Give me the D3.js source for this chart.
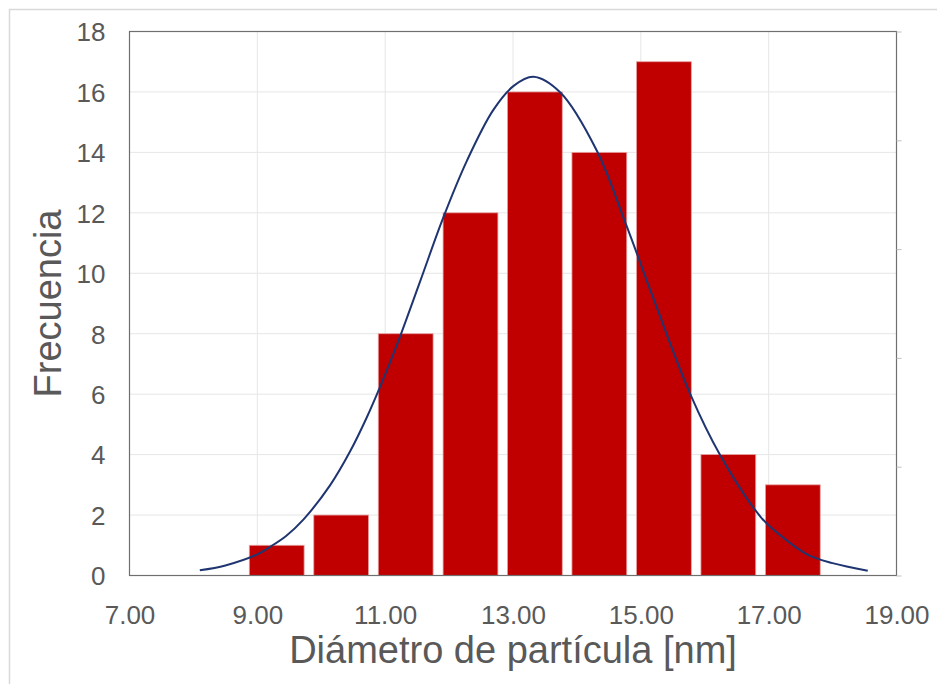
<!DOCTYPE html>
<html>
<head>
<meta charset="utf-8">
<script src="https://cdn.jsdelivr.net/npm/d3@7"></script>
<style>
  html, body { margin: 0; padding: 0; background: #fff; }
  svg text { font-family: "Liberation Sans", Arial, sans-serif; fill: #595959; }
</style>
</head>
<body>
<div id="chart"></div>
<script>
// Histogram bins (centre of each bin, nm) and counts
var binCenters = [9.303, 10.312, 11.321, 12.335, 13.342, 14.351, 15.361, 16.369, 17.378];
var counts = [1, 2, 8, 12, 16, 14, 17, 4, 3];
var binWidth = 1.009;

// Normal fit curve
var curveX = [8.10, 8.50, 9.00, 9.20, 9.45, 9.72, 10.14, 10.45, 10.71, 10.92, 11.18, 11.55, 11.91, 12.28, 12.69, 13.01, 13.32,
              13.74, 14.31, 14.78, 15.20, 15.77, 16.24, 16.87, 17.08, 17.60, 18.00, 18.55];
var curveY = [0.17, 0.33, 0.70, 0.95, 1.31, 1.85, 2.99, 4.10, 5.22, 6.24, 7.61, 9.75, 11.85, 13.73, 15.40, 16.20, 16.50,
              15.98, 14.06, 11.55, 9.15, 6.02, 3.99, 1.95, 1.51, 0.70, 0.41, 0.16];

var xTicks = [7, 9, 11, 13, 15, 17, 19];
var yTicks = [0, 2, 4, 6, 8, 10, 12, 14, 16, 18];

var xLabel = "Diámetro de partícula [nm]";
var yLabel = "Frecuencia";

(function () {
    "use strict";

    var width = 937,
        height = 684,
        margin = {top: 31.5, right: 40.5, bottom: 108.5, left: 129.5},
        w = width - margin.left - margin.right,
        h = height - margin.top - margin.bottom;

    var svg = d3.select("#chart").append("svg")
        .attr("width", width)
        .attr("height", height);

    // outer chart frame (only top/left edges visible in the picture)
    svg.append("rect")
        .attr("x", 9.5).attr("y", 9.5)
        .attr("width", 1200).attr("height", 1200)
        .attr("fill", "none")
        .attr("stroke", "#d9d9d9")
        .attr("stroke-width", 1.5);

    var x = d3.scaleLinear().domain([7, 19]).range([0, w]);
    var y = d3.scaleLinear().domain([0, 18]).range([h, 0]);

    var g = svg.append("g")
        .attr("transform", "translate(" + margin.left + "," + margin.top + ")");

    // grid lines
    g.append("g")
        .selectAll("line")
        .data(yTicks)
        .enter().append("line")
        .attr("x1", 0).attr("x2", w)
        .attr("y1", function (d) { return y(d); })
        .attr("y2", function (d) { return y(d); })
        .attr("stroke", "#e6e6e6").attr("stroke-width", 1);

    g.append("g")
        .selectAll("line")
        .data(xTicks)
        .enter().append("line")
        .attr("y1", 0).attr("y2", h)
        .attr("x1", function (d) { return x(d); })
        .attr("x2", function (d) { return x(d); })
        .attr("stroke", "#e6e6e6").attr("stroke-width", 1);

    // bars
    g.append("g")
        .selectAll("rect")
        .data(binCenters)
        .enter().append("rect")
        .attr("x", function (d) { return x(d - binWidth * 0.425); })
        .attr("width", function () { return x(7 + binWidth * 0.85) - x(7); })
        .attr("y", function (d, i) { return y(counts[i]); })
        .attr("height", function (d, i) { return h - y(counts[i]); })
        .attr("fill", "#c00000")
        .attr("stroke", "#e8a0a0")
        .attr("stroke-width", 0.8);

    // fitted curve
    var pts = curveX.map(function (d, i) { return [d, curveY[i]]; });
    var line = d3.line()
        .x(function (d) { return x(d[0]); })
        .y(function (d) { return y(d[1]); })
        .curve(d3.curveCatmullRom.alpha(0.5));

    g.append("path")
        .datum(pts)
        .attr("d", line)
        .attr("fill", "none")
        .attr("stroke", "#1f3571")
        .attr("stroke-width", 2);

    // plot border
    g.append("rect")
        .attr("width", w).attr("height", h)
        .attr("fill", "none")
        .attr("stroke", "#6f6f6f")
        .attr("stroke-width", 1.2);

    // axes
    var xAxis = g.append("g")
        .attr("transform", "translate(0," + h + ")")
        .call(d3.axisBottom(x).tickValues(xTicks).tickFormat(d3.format(".2f")).tickSize(0).tickPadding(30));
    xAxis.select(".domain").remove();
    xAxis.selectAll("text")
        .attr("fill", "#595959")
        .style("font-size", "26px");

    var yAxis = g.append("g")
        .call(d3.axisLeft(y).tickValues(yTicks).tickSize(0).tickPadding(24));
    yAxis.select(".domain").remove();
    yAxis.selectAll("text")
        .attr("fill", "#595959")
        .attr("dy", "0.36em")
        .style("font-size", "26px");

    // unlabelled secondary axis on the right
    var y2 = d3.scaleLinear().domain([0, 5]).range([h, 0]);
    var rAxis = g.append("g")
        .attr("transform", "translate(" + w + ",0)")
        .call(d3.axisRight(y2).ticks(5).tickSize(5).tickFormat(""));
    rAxis.select(".domain").remove();
    rAxis.selectAll("line").attr("stroke", "#bfbfbf");

    // axis titles
    svg.append("text")
        .attr("x", margin.left + w / 2)
        .attr("y", 663)
        .attr("text-anchor", "middle")
        .style("font-size", "38px")
        .text(xLabel);

    svg.append("text")
        .attr("transform", "translate(61," + (margin.top + h / 2) + ") rotate(-90)")
        .attr("text-anchor", "middle")
        .style("font-size", "38px")
        .text(yLabel);
}());
</script>
</body>
</html>
